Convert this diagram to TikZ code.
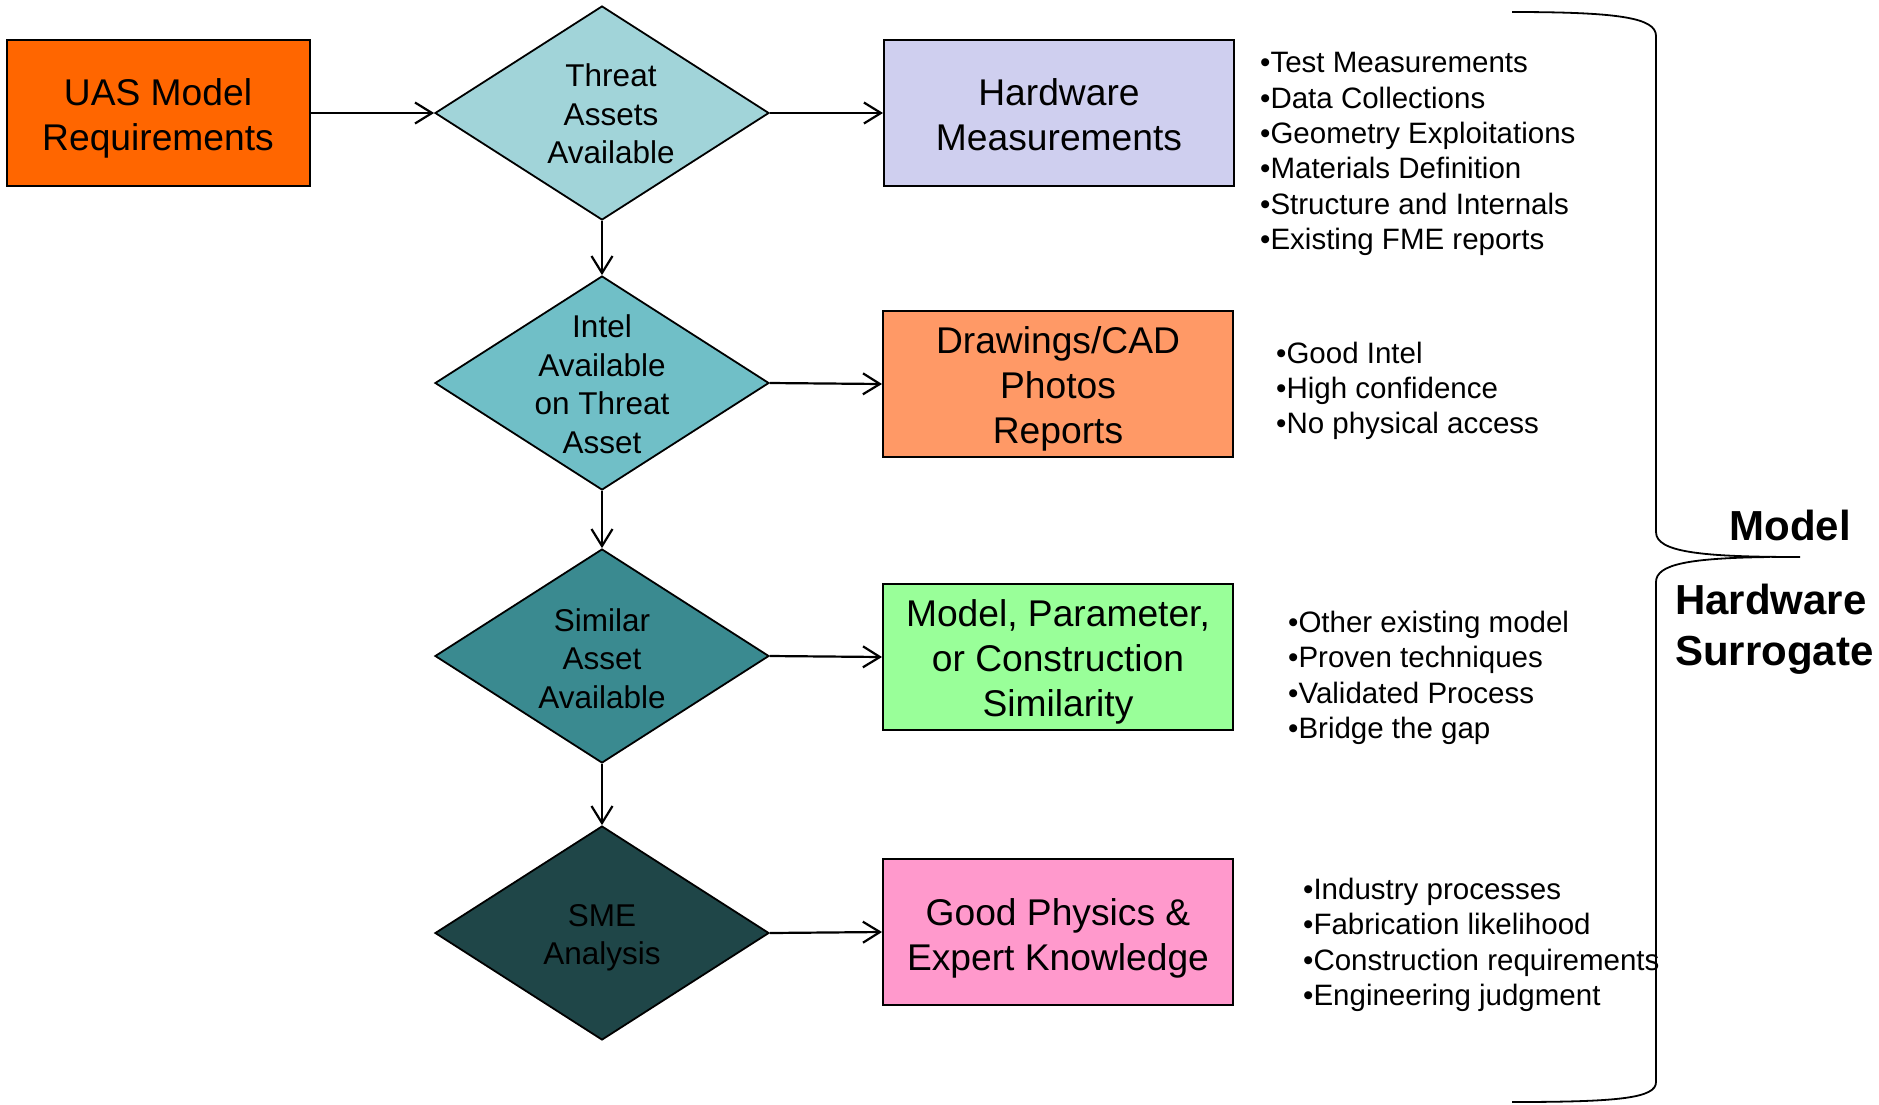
\documentclass[tikz,border=0pt]{standalone}
\usepackage{fontspec}
\setmainfont{Liberation Sans}
\usetikzlibrary{shapes.geometric,arrows.meta}
\definecolor{cUAS}{HTML}{FF6600}
\definecolor{cHW}{HTML}{CFCFEF}
\definecolor{cDraw}{HTML}{FF9966}
\definecolor{cSim}{HTML}{99FF99}
\definecolor{cPhys}{HTML}{FF99CC}
\definecolor{dA}{HTML}{A1D4D9}
\definecolor{dB}{HTML}{70BFC7}
\definecolor{dC}{HTML}{3A8A90}
\definecolor{dD}{HTML}{1F4648}
\begin{document}
\begin{tikzpicture}[x=1pt,y=-1pt,
  box/.style={draw=black, line width=2pt, minimum width=350pt, minimum height=146pt,
    inner sep=0pt},
  btext/.style={font=\fontsize{37.2}{45}\selectfont, align=center, yshift=-5pt},
  dia/.style={diamond, draw=black, line width=1.8pt, minimum width=334pt,
    minimum height=214pt, inner sep=0pt},
  dtext/.style={font=\fontsize{31.5}{38.5}\selectfont, align=center},
  blist/.style={font=\fontsize{29.5}{35.3}\selectfont, align=left, anchor=west, inner sep=0pt},
  arr/.style={line width=2.2pt, -{Straight Barb[length=17pt,width=21pt]}},
  side/.style={font=\fontsize{42}{51.5}\selectfont\bfseries, inner sep=0pt}
]
\useasboundingbox (0,0) rectangle (1879,1104);

\node[box, fill=cUAS, minimum width=303pt, label={[btext]center:UAS Model\\Requirements}] (uas) at (158,113) {};

\node[dia, fill=dA, label={[dtext, xshift=9pt, yshift=-1pt]center:Threat\\Assets\\Available}] (d1) at (602,113) {};
\node[dia, fill=dB, label={[dtext, yshift=-1pt]center:Intel\\Available\\on Threat\\Asset}] (d2) at (602,383) {};
\node[dia, fill=dC, label={[dtext, yshift=-2.5pt]center:Similar\\Asset\\Available}] (d3) at (602,656) {};
\node[dia, fill=dD, label={[dtext, yshift=-5pt]center:SME\\Analysis}] (d4) at (602,933) {};

\node[box, fill=cHW, label={[btext, yshift=3.5pt]center:Hardware\\Measurements}] (hw) at (1059,113) {};
\node[box, fill=cDraw, label={[btext]center:Drawings/CAD\\Photos\\Reports}] (dr) at (1058,384) {};
\node[box, fill=cSim, label={[btext]center:Model, Parameter,\\or Construction\\Similarity}] (sim) at (1058,657) {};
\node[box, fill=cPhys, label={[btext, yshift=-1pt]center:Good Physics \&\\Expert Knowledge}] (phys) at (1058,932) {};

\draw[arr] (uas.east) -- (d1.west);
\draw[arr] (d1.east) -- (hw.west);
\draw[arr] (d2.east) -- (dr.west);
\draw[arr] (d3.east) -- (sim.west);
\draw[arr] (d4.east) -- (phys.west);
\draw[arr] (d1.south) -- (d2.north);
\draw[arr] (d2.south) -- (d3.north);
\draw[arr] (d3.south) -- (d4.north);

\node[blist] (l1) at (1260,154) {•Test Measurements\\•Data Collections\\•Geometry Exploitations\\•Materials Definition\\•Structure and Internals\\•Existing FME reports};
\node[blist] (l2) at (1276,391) {•Good Intel\\•High confidence\\•No physical access};
\node[blist] (l3) at (1288,678) {•Other existing model\\•Proven techniques\\•Validated Process\\•Bridge the gap};
\node[blist] (l4) at (1303,945) {•Industry processes\\•Fabrication likelihood\\•Construction requirements\\•Engineering judgment};

\draw[line width=1.8pt] (1512,12) .. controls (1620,12) and (1656,18) .. (1656,36) -- (1656,532)
  .. controls (1656,552) and (1700,557) .. (1800,557);
\draw[line width=1.8pt] (1770,557) .. controls (1690,558) and (1656,564) .. (1656,582) -- (1656,1082)
  .. controls (1656,1098) and (1620,1102) .. (1512,1102);

\node[side] (m) at (1790,525) {Model};
\node[side, anchor=west, align=left] (hs) at (1675,629) {Hardware\\Surrogate};
\end{tikzpicture}
\end{document}
